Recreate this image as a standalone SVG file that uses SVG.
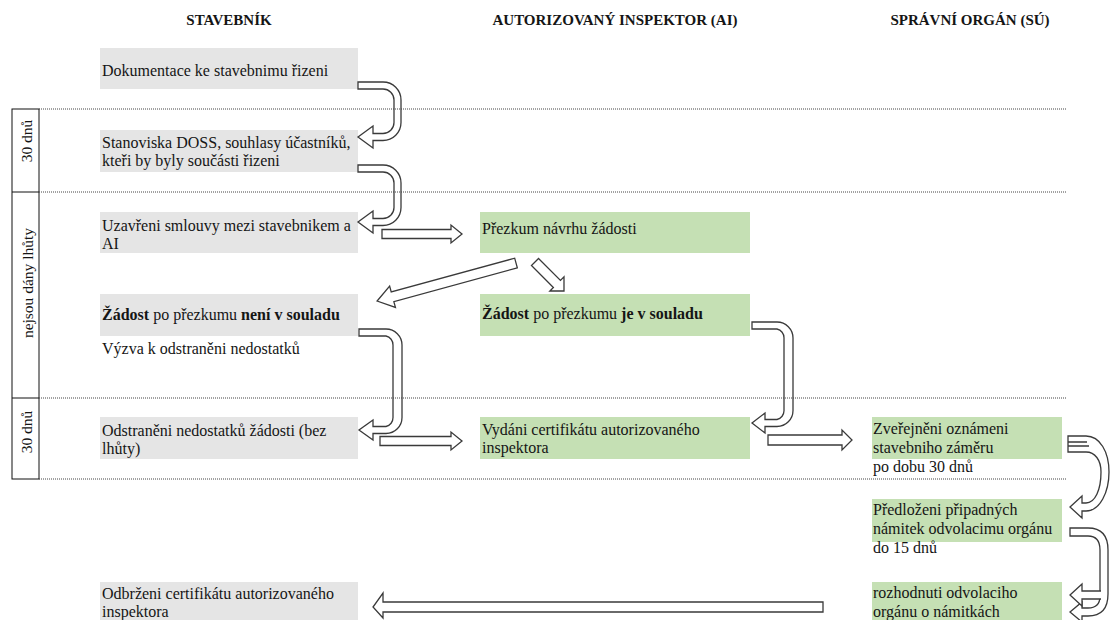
<svg xmlns="http://www.w3.org/2000/svg" width="1113" height="620" viewBox="0 0 1113 620">
  <style>
    text { font-family: "Liberation Serif", "Times New Roman", serif; font-size: 16px; fill: #151515; }
    .hdr { font-size: 15px; font-weight: bold; text-anchor: middle; }
    .side { font-size: 15.5px; text-anchor: middle; dominant-baseline: central; }
    .gray { fill: #e5e5e5; }
    .green { fill: #c5e0b4; }
    .b { font-weight: bold; }
    .sep { stroke: #444; stroke-width: 1; stroke-dasharray: 1 1; fill: none; }
    .frame { stroke: #111; stroke-width: 1; fill: none; }
    .arr { fill: #fff; stroke: #3a3a3a; stroke-width: 1.3; stroke-linejoin: miter; }
    .fold { stroke: #3a3a3a; stroke-width: 1.3; fill: none; }
  </style>

  <rect width="1113" height="620" fill="#fff"/>

  <!-- column headings -->
  <g id="headings">
    <text class="hdr" x="229" y="25">STAVEBNÍK</text>
    <text class="hdr" x="615" y="25">AUTORIZOVANÝ INSPEKTOR (AI)</text>
    <text class="hdr" x="970" y="25">SPRÁVNÍ ORGÁN (SÚ)</text>
  </g>

  <!-- time-limit column on the left -->
  <g id="deadlines">
    <rect class="frame" x="12" y="109" width="27" height="370"/>
    <line class="frame" x1="12" y1="192" x2="39" y2="192"/>
    <line class="frame" x1="12" y1="398" x2="39" y2="398"/>
    <text class="side" transform="translate(26,141) rotate(-90)">30 dnů</text>
    <text class="side" transform="translate(27,283) rotate(-90)">nejsou dány lhůty</text>
    <text class="side" transform="translate(26,432) rotate(-90)">30 dnů</text>
  </g>

  <!-- builder column -->
  <g id="n-dokumentace">
    <rect class="gray" x="100" y="48" width="258" height="41"/>
    <text x="102" y="76">Dokumentace ke stavebnimu řizeni</text>
  </g>
  <g id="n-stanoviska">
    <rect class="gray" x="100" y="130" width="258" height="42"/>
    <text x="102" y="148">Stanoviska DOSS, souhlasy účastníků,</text>
    <text x="102" y="166">kteři by byly součásti řizeni</text>
  </g>
  <g id="n-smlouva">
    <rect class="gray" x="100" y="212" width="258" height="41"/>
    <text x="102" y="231">Uzavřeni smlouvy mezi stavebnikem a</text>
    <text x="102" y="249">AI</text>
  </g>
  <g id="n-nesoulad">
    <rect class="gray" x="100" y="294" width="258" height="42"/>
    <text x="102" y="320"><tspan class="b">Žádost</tspan> po přezkumu <tspan class="b">není v souladu</tspan></text>
    <text x="102" y="354">Výzva k odstraněni nedostatků</text>
  </g>
  <g id="n-odstraneni">
    <rect class="gray" x="100" y="417" width="258" height="42"/>
    <text x="102" y="436">Odstraněni nedostatků žádosti (bez</text>
    <text x="102" y="454">lhůty)</text>
  </g>
  <g id="n-obdrzeni">
    <rect class="gray" x="100" y="582" width="258" height="40"/>
    <text x="102" y="599">Odbrženi certifikátu autorizovaného</text>
    <text x="102" y="617">inspektora</text>
  </g>

  <!-- inspector column -->
  <g id="n-prezkum">
    <rect class="green" x="480" y="212" width="270" height="41"/>
    <text x="482" y="234">Přezkum návrhu žádosti</text>
  </g>
  <g id="n-soulad">
    <rect class="green" x="480" y="294" width="270" height="42"/>
    <text x="482" y="319"><tspan class="b">Žádost</tspan> po přezkumu <tspan class="b">je v souladu</tspan></text>
  </g>
  <g id="n-certifikat">
    <rect class="green" x="480" y="417" width="270" height="42"/>
    <text x="482" y="435">Vydáni certifikátu autorizovaného</text>
    <text x="482" y="453">inspektora</text>
  </g>

  <!-- authority column -->
  <g id="n-zverejneni">
    <rect class="green" x="872" y="417" width="190" height="42"/>
    <text x="873" y="434">Zveřejněni oznámeni</text>
    <text x="873" y="453">stavebniho záměru</text>
    <text x="873" y="472">po dobu 30 dnů</text>
  </g>
  <g id="n-namitky">
    <rect class="green" x="872" y="499" width="190" height="43"/>
    <text x="873" y="515">Předloženi připadných</text>
    <text x="873" y="534">námitek odvolacimu orgánu</text>
    <text x="873" y="553">do 15 dnů</text>
  </g>
  <g id="n-rozhodnuti">
    <rect class="green" x="872" y="582" width="190" height="40"/>
    <text x="873" y="598">rozhodnuti odvolaciho</text>
    <text x="873" y="617">orgánu o námitkách</text>
  </g>

  <!-- block arrows -->
  <g id="connectors">
    <!-- U-turns in the builder column -->
    <path class="arr" d="M358,82 H383 A18,18 0 0 1 401,100 V122.5 A18,18 0 0 1 383,140.5 H373 V148 L358,137 L373,126 V133.5 H383 A11,11 0 0 0 394,122.5 V100 A11,11 0 0 0 383,89 H358 Z"/>
    <path class="arr" d="M358,165 H383 A18,18 0 0 1 401,183 V207.5 A18,18 0 0 1 383,225.5 H373 V233 L358,222 L373,211 V218.5 H383 A11,11 0 0 0 394,207.5 V183 A11,11 0 0 0 383,172 H358 Z"/>
    <path class="arr" d="M359,329 H386 A16,16 0 0 1 402,345 V417.5 A16,16 0 0 1 386,433.5 H373 V440 L359,430 L373,420 V426.5 H386 A9,9 0 0 0 393,417.5 V345 A9,9 0 0 0 386,336 H359 Z"/>
    <!-- U-turn in the inspector column -->
    <path class="arr" d="M752,322 H777 A16,16 0 0 1 793,338 V410.5 A16,16 0 0 1 777,426.5 H765 V433 L752,423 L765,413 V419.5 H777 A9,9 0 0 0 784,410.5 V338 A9,9 0 0 0 777,329 H752 Z"/>

    <!-- straight arrows to the right -->
    <path class="arr" d="M382,229.5 H451 V225 L462,234 L451,243 V238.5 H382 Z"/>
    <path class="arr" d="M380,436.5 H451 V432 L462,441 L451,450 V445.5 H380 Z"/>
    <path class="arr" d="M768,435 H842 V430 L852,440 L842,450 V445 H768 Z"/>
    <!-- long arrow back to the builder -->
    <path class="arr" d="M823,602 H383 V593 L373,607 L383,618 V612 H823 Z"/>

    <!-- diagonal arrows out of the review -->
    <path class="arr" transform="translate(516,263) rotate(164.7)" d="M0,-5 H128 V-11 L144,0 L128,11 V5 H0 Z"/>
    <path class="arr" transform="translate(535,262) rotate(45)" d="M0,-5 H31 V-10 L41,0 L31,10 V5 H0 Z"/>

    <!-- curved ribbon arrows in the authority column -->
    <path class="arr" d="M1068,436 H1086 C1100,436 1109,452 1109,472 C1109,492 1100,511 1086,511 H1082 V518 L1070,507 L1082,496 V503 H1086 C1095,503 1101,490 1101,472 C1101,460 1095,452 1086,452 H1068 Z"/>
    <path class="fold" d="M1068,442 H1087 M1068,446 H1089"/>
    <path class="arr" d="M1070,528 H1088 Q1108,528 1108,550 V594 Q1108,616 1088,616 H1082 V622 L1070,612 L1082,602 V608 H1088 Q1100,608 1100,596 V550 Q1100,536 1088,536 H1070 Z"/>
    <path class="arr" d="M1101,591 H1082 V584 L1070,595 L1082,606 V599 H1101"/>
  </g>

  <!-- dotted row separators -->
  <g id="rows">
    <line class="sep" x1="39" y1="109" x2="1067" y2="109"/>
    <line class="sep" x1="39" y1="192" x2="1067" y2="192"/>
    <line class="sep" x1="39" y1="398" x2="1067" y2="398"/>
    <line class="sep" x1="39" y1="479" x2="1067" y2="479"/>
  </g>
</svg>
